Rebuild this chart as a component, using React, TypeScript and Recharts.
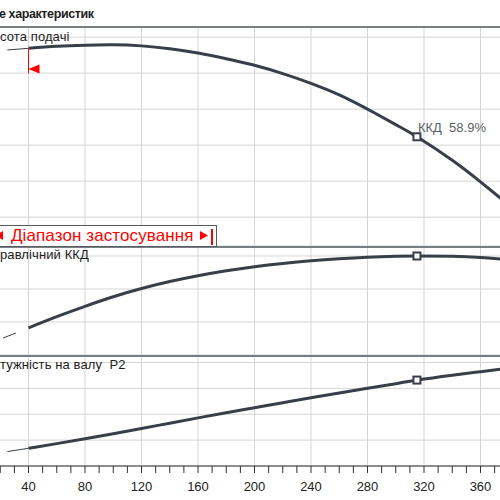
import {
  ComposedChart, Line, Scatter, XAxis, YAxis, CartesianGrid,
  ReferenceLine, ReferenceDot,
} from 'recharts'

const flow = [40, 60, 80, 100, 120, 140, 160, 180, 200, 220, 240, 260, 280, 300, 315, 340, 360, 380]
const head = [58.44, 58.72, 58.88, 58.93, 58.78, 58.38, 57.78, 57.0, 56.08, 54.93, 53.58, 51.98, 50.0, 47.85, 46.16, 42.9, 39.9, 36.7]
const efficiency = [16.4, 23.2, 29.5, 35.3, 40.3, 44.5, 48.0, 51.0, 53.5, 55.5, 57.1, 58.3, 59.2, 59.8, 60.0, 59.8, 59.1, 57.8]
const power = [1.37, 1.73, 2.1, 2.49, 2.9, 3.31, 3.72, 4.12, 4.5, 4.89, 5.27, 5.64, 6.0, 6.36, 6.64, 7.02, 7.29, 7.55]

// thin extensions below the application range
const headThinFlow = [25, 40]
const headThin = [58.21, 58.44]
const effThinFlow = [22, 31]
const effThin = [10.3, 13.3]
const powerThinFlow = [25, 40]
const powerThin = [1.11, 1.37]

const gridTicks = [0, 40, 80, 120, 160, 200, 240, 280, 320, 360, 400]
const axisTicks = [0, 10, 20, 30, 40, 50, 60, 70, 80, 90, 100, 110, 120, 130, 140, 150, 160, 170, 180, 190, 200,
  210, 220, 230, 240, 250, 260, 270, 280, 290, 300, 310, 320, 330, 340, 350, 360, 370, 380, 390, 400]
const tickLabels = [40, 80, 120, 160, 200, 240, 280, 320, 360]
const headTicks = [35, 40, 45, 50, 55, 60]
const effTicks = [0, 20, 40, 60]
const powerTicks = [0, 2, 4, 6, 8]

const DUTY_Q = 315
const MIN_Q = 40
const MIN_MARK_LOW = 54.97
const MIN_MARK_ARROW = 55.57

const title = 'е характеристик'
const headLabel = 'сота подачі'
const effLabel = 'равлічний ККД'
const powerLabel = 'тужність на валу  P2'
const dutyLabel = 'ККД\u00a0\u00a058.9%'
const rangeLabel = 'Діапазон застосування'

const rows = flow.map((q, i) => ({ q, h: head[i], eta: efficiency[i], p: power[i] }))
const headThinRows = headThinFlow.map((q, i) => ({ q, h: headThin[i] }))
const effThinRows = effThinFlow.map((q, i) => ({ q, eta: effThin[i] }))
const powerThinRows = powerThinFlow.map((q, i) => ({ q, p: powerThin[i] }))
const dutyRows = rows.filter((r) => r.q === DUTY_Q)
const minHead = rows.find((r) => r.q === MIN_Q)!.h

const CURVE = '#383f48'
const GRID = '#d5d5d5'
const FRAME = '#555b61'
const RED = '#ff0000'
const FONT = '"Liberation Sans", Arial, sans-serif'

const W = 565       // plot width for flow 0..400
const LEFT = -28.5  // x of flow 0
const PAD = 4

function Square(props: { cx?: number; cy?: number; label?: string }) {
  const { cx = 0, cy = 0, label } = props
  return (
    <g>
      <rect x={cx - 3.5} y={cy - 3.5} width={7} height={7} fill="#fff" stroke={CURVE} strokeWidth={2} />
      {label && (
        <text x={cx + 1} y={cy - 4.5} fill="#5a5f66" fontSize={13} fontFamily={FONT}>{label}</text>
      )}
    </g>
  )
}

function Arrow(props: { cx?: number; cy?: number }) {
  const { cx = 0, cy = 0 } = props
  return <path d={`M${cx},${cy} L${cx + 11},${cy - 4.5} L${cx + 11},${cy + 4.5} Z`} fill={RED} />
}

const lineProps = {
  type: 'natural' as const,
  stroke: CURVE,
  dot: false,
  activeDot: false,
  isAnimationActive: false,
}

const margin = { top: PAD, right: 0, bottom: PAD, left: 0 }

function Text({ top, children, bold }: { top: number; children: string; bold?: boolean }) {
  return (
    <div style={{
      position: 'absolute', left: bold ? -1 : 0, top, fontSize: bold ? 12.5 : 13, lineHeight: '16px',
      fontWeight: bold ? 700 : 400, letterSpacing: bold ? -0.4 : 0.1,
      color: '#1d1d1d', whiteSpace: 'pre', fontFamily: FONT,
    }}>
      {children}
    </div>
  )
}

export default function App() {
  return (
    <div style={{
      position: 'fixed', left: 0, top: 0, width: 500, height: 500,
      overflow: 'hidden', background: '#fff', fontFamily: FONT,
    }}>
      {/* head */}
      <div style={{ position: 'absolute', left: LEFT, top: 27 - PAD }}>
        <ComposedChart width={W} height={219 + 2 * PAD} data={rows} margin={margin}>
          <XAxis type="number" dataKey="q" domain={[0, 400]} ticks={gridTicks} hide />
          <YAxis type="number" domain={[31, 61.4]} ticks={headTicks} hide />
          <CartesianGrid stroke={GRID} />
          <ReferenceLine y={61.4} stroke={FRAME} strokeWidth={1.5} />
          <Line {...lineProps} data={headThinRows} dataKey="h" strokeWidth={1} />
          <Line {...lineProps} dataKey="h" strokeWidth={3} />
          <ReferenceLine segment={[{ x: MIN_Q, y: minHead }, { x: MIN_Q, y: MIN_MARK_LOW }]} stroke={RED} strokeWidth={1} />
          <ReferenceDot x={MIN_Q} y={MIN_MARK_ARROW} shape={<Arrow />} />
          <Scatter data={dutyRows} dataKey="h" isAnimationActive={false}
            shape={(p: any) => <Square cx={p.cx} cy={p.cy} label={dutyLabel} />} />
        </ComposedChart>
      </div>

      {/* efficiency */}
      <div style={{ position: 'absolute', left: LEFT, top: 247 - PAD }}>
        <ComposedChart width={W} height={108 + 2 * PAD} data={rows} margin={margin}>
          <XAxis type="number" dataKey="q" domain={[0, 400]} ticks={gridTicks} hide />
          <YAxis type="number" domain={[0, 65.45]} ticks={effTicks} hide />
          <CartesianGrid stroke={GRID} />
          <ReferenceLine y={65.45} stroke={FRAME} strokeWidth={1.5} />
          <Line {...lineProps} data={effThinRows} dataKey="eta" strokeWidth={1} />
          <Line {...lineProps} dataKey="eta" strokeWidth={3} />
          <Scatter data={dutyRows} dataKey="eta" isAnimationActive={false}
            shape={(p: any) => <Square cx={p.cx} cy={p.cy} />} />
        </ComposedChart>
      </div>

      {/* power */}
      <div style={{ position: 'absolute', left: LEFT, top: 356 - PAD }}>
        <ComposedChart width={W} height={110 + PAD + 40} data={rows} margin={{ ...margin, bottom: 0 }}>
          <XAxis type="number" dataKey="q" domain={[0, 400]} ticks={axisTicks} interval={0}
            tickFormatter={(v: number) => (tickLabels.includes(v) ? String(v) : '')}
            tick={{ fill: '#222', fontSize: 13, fontFamily: FONT }}
            axisLine={{ stroke: '#333', strokeWidth: 1 }} tickLine={{ stroke: '#333' }}
            tickSize={7} tickMargin={9} height={40} />
          <XAxis xAxisId="g" type="number" dataKey="q" domain={[0, 400]} ticks={gridTicks} hide />
          <YAxis type="number" domain={[0, 8.5]} ticks={powerTicks} hide />
          <CartesianGrid xAxisId="g" stroke={GRID} />
          <ReferenceLine y={8.5} stroke={FRAME} strokeWidth={1.5} />
          <Line {...lineProps} data={powerThinRows} dataKey="p" strokeWidth={1} />
          <Line {...lineProps} dataKey="p" strokeWidth={3} />
          <Scatter data={dutyRows} dataKey="p" isAnimationActive={false}
            shape={(p: any) => <Square cx={p.cx} cy={p.cy} />} />
        </ComposedChart>
      </div>

      {/* application range box */}
      <div style={{
        position: 'absolute', left: -12, top: 225, width: 229, height: 22, boxSizing: 'border-box',
        border: `1px solid ${FRAME}`, background: '#fff',
      }} />
      <svg style={{ position: 'absolute', left: 0, top: 225 }} width={220} height={22}>
        <path d="M-5,10.5 L3,6 L3,15 Z" fill={RED} />
        <path d="M208,10.5 L200,6 L200,15 Z" fill={RED} />
        <rect x={211} y={4} width={2} height={16} fill={RED} />
      </svg>
      <div style={{
        position: 'absolute', left: 11, top: 225, lineHeight: '21px', fontSize: 17,
        color: RED, whiteSpace: 'pre', fontFamily: FONT, letterSpacing: 0.1,
      }}>
        {rangeLabel}
      </div>

      <Text top={6} bold>{title}</Text>
      <Text top={29}>{headLabel}</Text>
      <Text top={247}>{effLabel}</Text>
      <Text top={357}>{powerLabel}</Text>
    </div>
  )
}
